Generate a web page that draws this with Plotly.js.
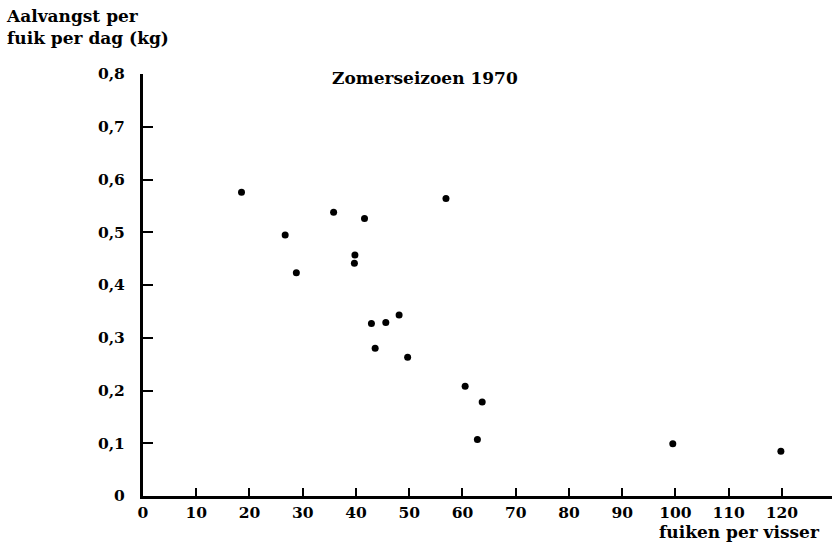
<!DOCTYPE html>
<html>
<head>
<meta charset="utf-8">
<script src="https://cdn.plot.ly/plotly-3.0.1.min.js"></script>
<style>html,body{margin:0;padding:0;background:#fff;}#chart{width:836px;height:547px;}</style>
</head>
<body>
<div id="chart"></div>
<script>
// fuiken per visser (x) and aalvangst per fuik per dag in kg (y)
const fuikenPerVisser = [18.5, 26.7, 28.8, 35.8, 41.6, 39.8, 39.7, 56.9, 42.9, 45.6, 48.1, 43.6, 49.7, 60.5, 63.7, 62.8, 99.5, 119.8];
const aalvangst       = [0.576, 0.495, 0.423, 0.538, 0.526, 0.457, 0.441, 0.564, 0.327, 0.329, 0.343, 0.280, 0.263, 0.208, 0.178, 0.107, 0.099, 0.085];
const xTickVals = [0, 10, 20, 30, 40, 50, 60, 70, 80, 90, 100, 110, 120];
const xTickText = ["0", "10", "20", "30", "40", "50", "60", "70", "80", "90", "100", "110", "120"];
const yTickVals = [0, 0.1, 0.2, 0.3, 0.4, 0.5, 0.6, 0.7, 0.8];
const yTickText = ["0", "0,1", "0,2", "0,3", "0,4", "0,5", "0,6", "0,7", "0,8"];

const FONT = "DejaVu Serif, Liberation Serif, serif";
const TXT = {family: FONT, size: 17, color: "#000", weight: "bold"};
const TICK = {family: FONT, size: 15.5, color: "#000", weight: "bold"};

const data = [{
  type: "scatter",
  mode: "markers",
  x: fuikenPerVisser,
  y: aalvangst,
  marker: {color: "#000", size: 7},
  hoverinfo: "x+y",
  showlegend: false
}];

const layout = {
  width: 836, height: 547,
  margin: {l: 143, r: 4, t: 74, b: 51, pad: 0},
  paper_bgcolor: "#fff", plot_bgcolor: "#fff",
  font: TICK,
  xaxis: {
    range: [0, 129.4],
    showgrid: false, zeroline: false,
    showline: true, linecolor: "#000", linewidth: 3,
    ticks: "inside", ticklen: 8, tickwidth: 2, tickcolor: "#000",
    tickmode: "array", tickvals: xTickVals, ticktext: xTickText,
    tickfont: TICK
  },
  yaxis: {
    range: [0, 0.8],
    showgrid: false, zeroline: false,
    showline: true, linecolor: "#000", linewidth: 3,
    ticks: "inside", ticklen: 10, tickwidth: 2, tickcolor: "#000",
    tickmode: "array", tickvals: yTickVals, ticktext: yTickText,
    tickfont: TICK,
    ticklabelstandoff: 12
  },
  annotations: [
    {text: "Zomerseizoen 1970", xref: "paper", yref: "paper", x: 0.271, y: 0.99, xanchor: "left", yanchor: "middle",
     showarrow: false, font: TXT},
    {text: "Aalvangst per<br>fuik per dag (kg)", xref: "paper", yref: "paper", x: -0.202, y: 1.165, xanchor: "left", yanchor: "top",
     align: "left", showarrow: false, font: TXT},
    {text: "fuiken per visser", xref: "paper", yref: "paper", x: 0.9855, y: -0.058, xanchor: "right", yanchor: "top",
     showarrow: false, font: TXT}
  ]
};

Plotly.newPlot("chart", data, layout, {displayModeBar: false, staticPlot: true});
</script>
</body>
</html>
